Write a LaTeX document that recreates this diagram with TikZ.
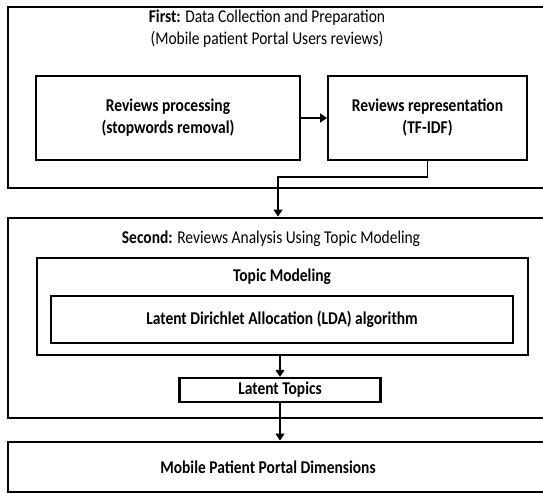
\documentclass[tikz,border=0pt]{standalone}
\usepackage{fontspec}
\setmainfont{Carlito}[FakeStretch=0.86]
\usetikzlibrary{arrows.meta}
\newcommand\labelsize{\fontsize{18}{22}\selectfont}
\tikzset{
  stage/.style={draw, line width=2.8pt, minimum width=544pt},
  step box/.style={draw, line width=1.8pt, font=\labelsize\bfseries, align=center},
  method box/.style={draw, line width=2.4pt},
  algo box/.style={draw, line width=1.6pt, font=\labelsize\bfseries},
  heading/.style={align=center, inner sep=0pt, font=\labelsize},
  bold heading/.style={heading, font=\labelsize\bfseries},
  flow/.style={line width=1.4pt, -{Triangle[length=7pt,width=9pt]}},
}
\begin{document}
\begin{tikzpicture}[x=1pt, y=-1pt]
\useasboundingbox (0,0) rectangle (543,493);

% first stage: data collection and preparation
\node[stage, minimum height=181pt] (first) at (280,97.5) {};
\node[heading] (firsttitle) at (267,29) {\textbf{First:} Data Collection and Preparation\\(Mobile patient Portal Users reviews)};
\node[step box, minimum width=264pt, minimum height=84pt] (proc) at (168,118)
  {Reviews processing\\(stopwords removal)};
\node[step box, minimum width=199pt, minimum height=84pt] (repr) at (427.5,118)
  {Reviews representation\\(TF-IDF)};
\coordinate (bend) at (278,177);

% second stage: topic modeling
\node[stage, minimum height=200pt] (second) at (280,318) {};
\node[heading] (secondtitle) at (271,239) {\textbf{Second:} Reviews Analysis Using Topic Modeling};
\node[method box, minimum width=491pt, minimum height=97pt] (topic) at (282.5,306.5) {};
\node[bold heading] (topictitle) at (282,277) {Topic Modeling};
\node[algo box, minimum width=462pt, minimum height=47pt] (lda) at (282,319.5)
  {Latent Dirichlet Allocation (LDA) algorithm};
\node[method box, font=\labelsize\bfseries, minimum width=201pt, minimum height=24pt, inner sep=0pt] (latent) at (280,390) {Latent Topics};

% result
\node[stage, minimum height=50pt] (dims) at (280,467) {};
\node[bold heading] (dimstext) at (268,467) {Mobile Patient Portal Dimensions};

% connectors
\draw[flow] (proc) -- (repr);
\draw[flow] (repr.south) |- (bend) -- (bend |- second.north);
\draw[flow] (latent.north |- topic.south) -- (latent.north);
\draw[flow] (latent.south) -- (latent.south |- dims.north);
\end{tikzpicture}
\end{document}
